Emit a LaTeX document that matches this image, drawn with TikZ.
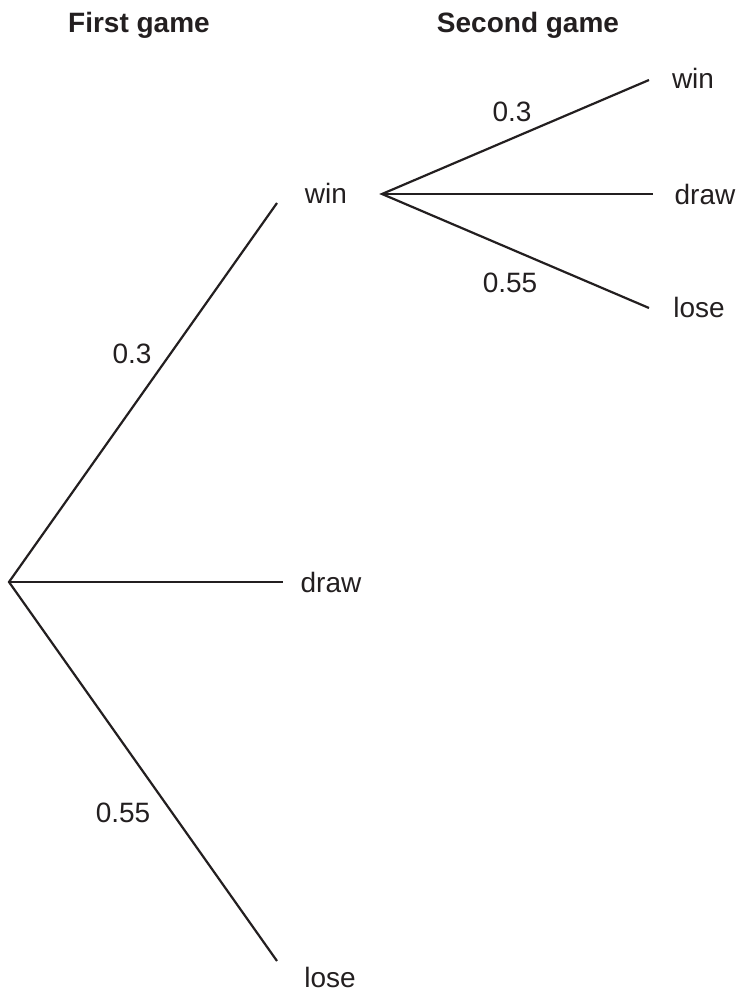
\documentclass[tikz,border=0pt]{standalone}
\usepackage{fontspec}
\setmainfont{Liberation Sans}
\definecolor{ink}{HTML}{231F20}
\begin{document}
\begin{tikzpicture}[x=1pt,y=-1pt,
  branch/.style={draw=ink,line width=2.2pt},
  lbl/.style={text=ink,font=\fontsize{28}{32}\selectfont,inner sep=0pt},
  head/.style={text=ink,font=\fontsize{28}{32}\selectfont\bfseries,inner sep=0pt}]
\useasboundingbox (0,0) rectangle (737,992);
\node[head] (h1) at (139,25) {First game};
\node[head] (h2) at (528,25) {Second game};
% first game
\coordinate (r0) at (9,582);
\coordinate (e1) at (277,203);
\coordinate (e2) at (283,582);
\coordinate (e3) at (277,961);
\draw[branch] (e1) -- (r0) -- (e3);
\draw[branch] (r0) -- (e2);
\node[lbl] (w1) at (326,193) {win};
\node[lbl] (d1) at (331,582) {draw};
\node[lbl] (l1) at (330,977) {lose};
\node[lbl] (p1) at (132,354) {0.3};
\node[lbl] (p3) at (123,813) {0.55};
% second game
\coordinate (r1) at (382,194);
\coordinate (f1) at (649,80);
\coordinate (f2) at (653,194);
\coordinate (f3) at (649,308);
\draw[branch] (f1) -- (r1) -- (f3);
\draw[branch] (r1) -- (f2);
\node[lbl] (w2) at (693,78) {win};
\node[lbl] (d2) at (705,194) {draw};
\node[lbl] (l2) at (699,307) {lose};
\node[lbl] (q1) at (512,112) {0.3};
\node[lbl] (q3) at (510,283) {0.55};
\end{tikzpicture}
\end{document}
